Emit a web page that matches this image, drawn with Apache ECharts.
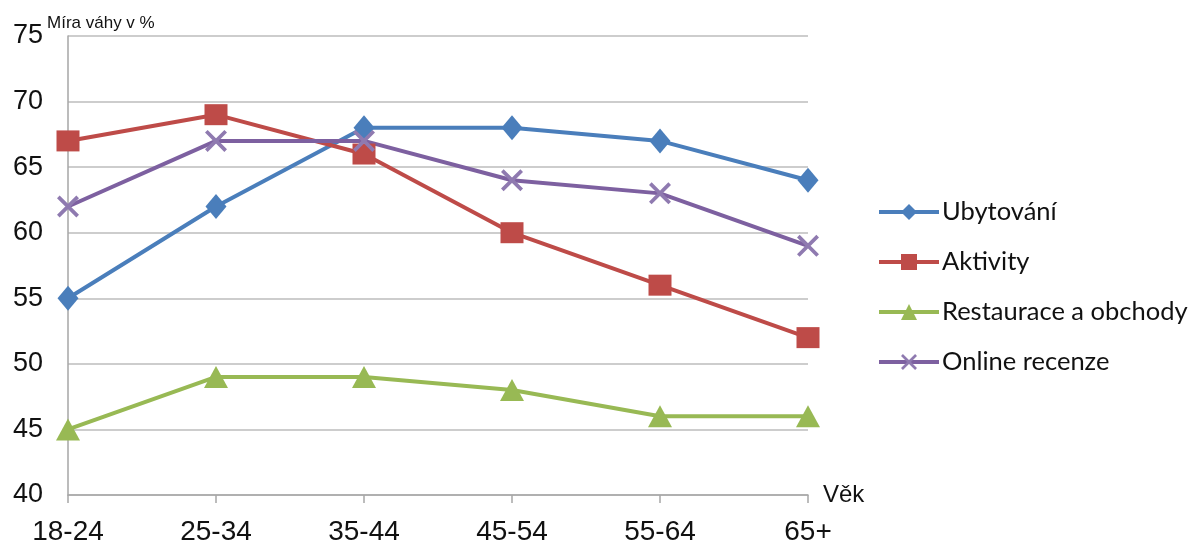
<!DOCTYPE html>
<html>
<head>
<meta charset="utf-8">
<script src="https://cdn.jsdelivr.net/npm/echarts@6/dist/echarts.min.js"></script>
<style>
  html, body { margin: 0; padding: 0; background: #fff; }
  #chart { width: 1199px; height: 540px; }
</style>
</head>
<body>
<div id="chart"></div>
<script>
// Age groups on the horizontal axis
const ageGroups = ['18-24', '25-34', '35-44', '45-54', '55-64', '65+'];

// Weight (%) of each information source by age group
const ubytovani = [55, 62, 68, 68, 67, 64];
const aktivity = [67, 69, 66, 60, 56, 52];
const restaurace = [45, 49, 49, 48, 46, 46];
const onlineRecenze = [62, 67, 67, 64, 63, 59];

const seriesNames = ['Ubytování', 'Aktivity', 'Restaurace a obchody', 'Online recenze'];
const axisTitleY = 'Míra váhy v %';
const axisTitleX = 'Věk';

// thin "x" marker drawn as two filled bars
const crossSymbol = 'path://M0,1.2L1.2,0L10,8.8L8.8,10Z M8.8,0L10,1.2L1.2,10L0,8.8Z';

function lineSeries(name, data, color, symbol, size, markerColor) {
  return {
    name: name,
    type: 'line',
    data: data,
    symbol: symbol,
    symbolSize: size,
    showAllSymbol: true,
    lineStyle: { color: color, width: 4 },
    itemStyle: { color: markerColor || color },
    emphasis: { disabled: true },
    z: 3
  };
}

const chart = echarts.init(document.getElementById('chart'), null, { renderer: 'canvas' });
chart.setOption({
  animation: false,
  backgroundColor: '#ffffff',
  textStyle: { fontFamily: 'Liberation Sans, Arial, sans-serif' },
  grid: { left: 68, right: 391, top: 36, bottom: 45, containLabel: false, outerBoundsMode: 'none' },
  legend: {
    orient: 'vertical',
    left: 872,
    top: 194,
    itemWidth: 60,
    itemHeight: 20,
    itemGap: 24,
    lineStyle: { width: 4 },
    textStyle: { fontFamily: 'Lato, sans-serif', fontSize: 25.5, color: '#111', padding: [0, 0, 0, -2] },
    data: seriesNames
  },
  xAxis: {
    type: 'category',
    data: ageGroups,
    boundaryGap: false,
    name: axisTitleX,
    nameLocation: 'end',
    nameGap: 15,
    nameTextStyle: { fontSize: 24, color: '#111', verticalAlign: 'middle' },
    axisLine: { lineStyle: { color: '#a6a6a6', width: 1.5 } },
    axisTick: { show: true, length: 8, lineStyle: { color: '#a6a6a6', width: 1.5 } },
    axisLabel: { fontSize: 28, color: '#111', margin: 23 },
    splitLine: { show: false }
  },
  yAxis: {
    type: 'value',
    min: 40,
    max: 75,
    interval: 5,
    axisLine: { show: true, lineStyle: { color: '#a6a6a6', width: 1.5 } },
    axisTick: { show: false },
    axisLabel: { fontSize: 27, color: '#111', margin: 25 },
    splitLine: { show: true, lineStyle: { color: '#bdbdbd', width: 1.5 } }
  },
  graphic: [{
    type: 'text',
    left: 47,
    top: 15,
    style: { text: axisTitleY, fontSize: 17, fill: '#111', fontFamily: 'Liberation Sans, Arial, sans-serif' }
  }],
  series: [
    lineSeries(seriesNames[0], ubytovani, '#4a7ebb', 'diamond', [21, 25]),
    lineSeries(seriesNames[1], aktivity, '#be4b48', 'rect', [23, 21]),
    lineSeries(seriesNames[2], restaurace, '#98b954', 'triangle', [24, 22]),
    lineSeries(seriesNames[3], onlineRecenze, '#7d60a0', crossSymbol, 22, '#8f7ab0')
  ]
});
</script>
</body>
</html>
